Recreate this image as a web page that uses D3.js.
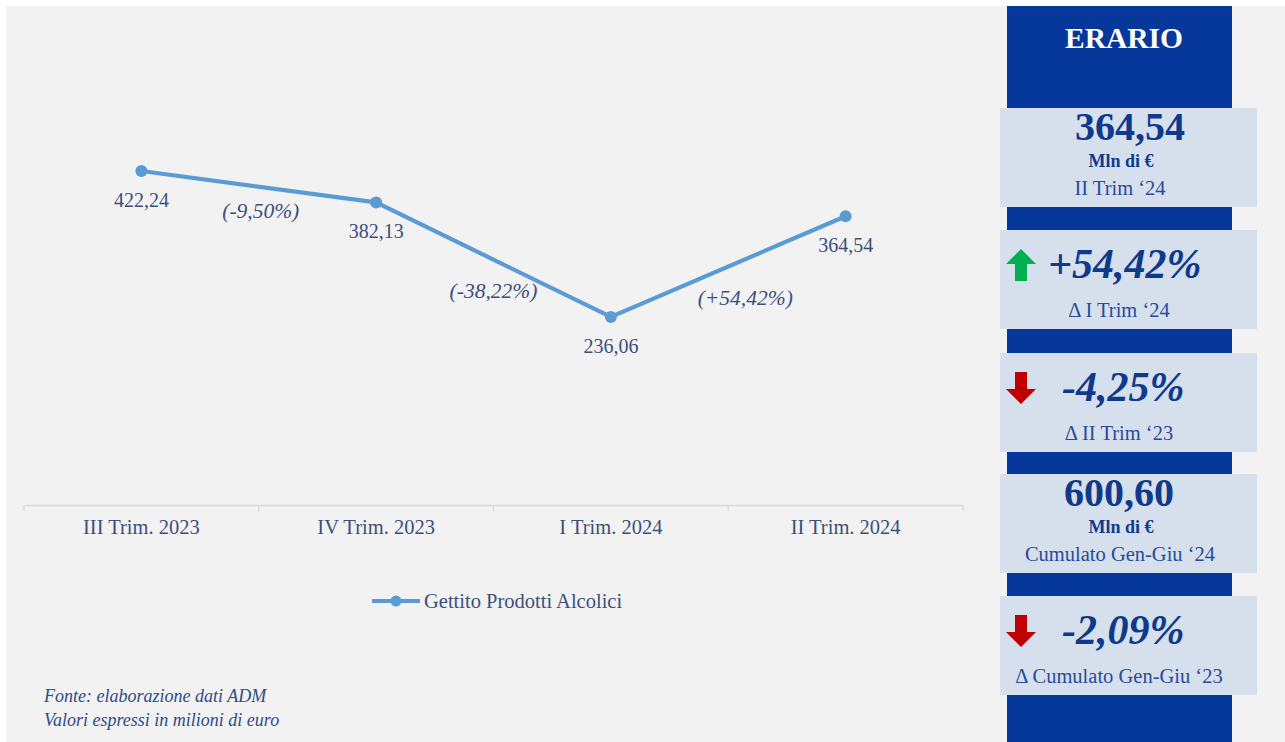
<!DOCTYPE html>
<html>
<head>
<meta charset="utf-8">
<script src="https://cdn.jsdelivr.net/npm/d3@7"></script>
<style>
  html, body { margin: 0; padding: 0; background: #ffffff; }
  svg { display: block; }
  text { font-family: "Liberation Serif", "DejaVu Serif", serif; }
</style>
</head>
<body>
<svg id="chart" width="1285" height="742"></svg>
<script>
// ---- Data ----
const categories = ["III Trim. 2023", "IV Trim. 2023", "I Trim. 2024", "II Trim. 2024"];
const values = [422.24, 382.13, 236.06, 364.54];
const valueLabels = ["422,24", "382,13", "236,06", "364,54"];
const changeLabels = ["(-9,50%)", "(-38,22%)", "(+54,42%)"];
const seriesName = "Gettito Prodotti Alcolici";
const notes = ["Fonte: elaborazione dati ADM", "Valori espressi in milioni di euro"];
const panelTitle = "ERARIO";
const kpiMain = ["364,54", "+54,42%", "-4,25%", "600,60", "-2,09%"];
const kpiUnit = ["Mln di €", "", "", "Mln di €", ""];
const kpiSub = ["II Trim ‘24", "Δ I Trim ‘24", "Δ II Trim ‘23", "Cumulato Gen-Giu ‘24", "Δ Cumulato Gen-Giu ‘23"];
const kpiArrow = ["", "up", "down", "", "down"];

// ---- Layout ----
const svg = d3.select("#chart");
const W = 1285, H = 742;
const textCol = "#3d4f7c";
const lineCol = "#5b9bd5";
const darkBlue = "#06389c";
const boxCol = "#d6dfec";
const kpiText = "#0f3a8c";

svg.append("rect").attr("x", 6).attr("y", 6).attr("width", W - 6).attr("height", H - 6).attr("fill", "#f2f2f2");

// scales
const x = d3.scaleBand().domain(categories).range([24, 963]).paddingInner(0).paddingOuter(0);
const y = d3.scaleLinear().domain([0, 600]).range([502, 31.6]);
const cx = d => x(d) + x.bandwidth() / 2;

// axis
const axisG = svg.append("g").attr("transform", "translate(0,505)")
  .call(d3.axisBottom(x).tickSize(0).tickPadding(0));
axisG.select(".domain").attr("stroke", "#d9d9d9").attr("stroke-width", 1.3);
axisG.selectAll(".tick text").remove();
const bounds = categories.map(c => x(c)).concat([x(categories[categories.length - 1]) + x.bandwidth()]);
axisG.selectAll("line.bnd").data(bounds).enter().append("line")
  .attr("class", "bnd").attr("x1", d => d).attr("x2", d => d).attr("y1", 0).attr("y2", 6)
  .attr("stroke", "#d9d9d9").attr("stroke-width", 1.3);
axisG.selectAll("text.cat").data(categories).enter().append("text")
  .attr("class", "cat").attr("x", d => cx(d)).attr("y", 29)
  .attr("text-anchor", "middle").attr("font-size", 20.5).attr("fill", textCol).text(d => d);

// line
const pts = categories.map((c, i) => ({ c, v: values[i], label: valueLabels[i] }));
const line = d3.line().x(d => cx(d.c)).y(d => y(d.v));
svg.append("path").datum(pts).attr("d", line).attr("fill", "none")
  .attr("stroke", lineCol).attr("stroke-width", 4.2).attr("stroke-linejoin", "round");
svg.selectAll("circle.pt").data(pts).enter().append("circle")
  .attr("class", "pt").attr("cx", d => cx(d.c)).attr("cy", d => y(d.v)).attr("r", 6)
  .attr("fill", lineCol);
svg.selectAll("text.vl").data(pts).enter().append("text")
  .attr("class", "vl").attr("x", d => cx(d.c)).attr("y", d => y(d.v) + 36)
  .attr("text-anchor", "middle").attr("font-size", 20).attr("fill", textCol).text(d => d.label);

// change labels between points
const chg = changeLabels.map((t, i) => ({ t, a: pts[i], b: pts[i + 1] }));
const chgDy = [31, 38, 38.5];
const chgDx = [2, 0, 17];
svg.selectAll("text.chg").data(chg).enter().append("text")
  .attr("class", "chg")
  .attr("x", (d, i) => (cx(d.a.c) + cx(d.b.c)) / 2 + chgDx[i])
  .attr("y", (d, i) => (y(d.a.v) + y(d.b.v)) / 2 + chgDy[i])
  .attr("text-anchor", "middle").attr("font-size", 21.5).attr("font-style", "italic")
  .attr("fill", textCol).text(d => d.t);

// legend
const lg = svg.append("g").attr("transform", "translate(372,601)");
lg.append("line").attr("x1", 0).attr("x2", 48).attr("y1", 0).attr("y2", 0)
  .attr("stroke", lineCol).attr("stroke-width", 4.2);
lg.append("circle").attr("cx", 24).attr("cy", 0).attr("r", 5.5).attr("fill", lineCol);
lg.append("text").attr("x", 52).attr("y", 7).attr("font-size", 20.5).attr("fill", textCol).text(seriesName);

// notes
svg.selectAll("text.note").data(notes).enter().append("text")
  .attr("class", "note").attr("x", 44).attr("y", (d, i) => 702 + i * 24)
  .attr("font-size", 18).attr("font-style", "italic").attr("fill", "#2f4a8a").text(d => d);

// ---- Right panel ----
svg.append("rect").attr("x", 1007).attr("y", 6).attr("width", 225).attr("height", H - 6).attr("fill", darkBlue);
svg.append("text").attr("x", 1124).attr("y", 48).attr("text-anchor", "middle")
  .attr("font-size", 29.5).attr("font-weight", "bold").attr("fill", "#ffffff").text(panelTitle);

const boxTops = [108, 230, 353, 474, 596];
const boxH = 99;
const mainX = [1130, 1048, 1062, 1119, 1062];
kpiMain.forEach((m, i) => {
  const g = svg.append("g").attr("transform", `translate(0,${boxTops[i]})`);
  g.append("rect").attr("x", 1000).attr("y", 0).attr("width", 257).attr("height", boxH).attr("fill", boxCol);
  if (kpiUnit[i]) {
    g.append("text").attr("x", mainX[i]).attr("y", 32).attr("text-anchor", "middle")
      .attr("font-size", 40).attr("font-weight", "bold").attr("fill", kpiText).text(m);
    g.append("text").attr("x", 1121).attr("y", 59).attr("text-anchor", "middle")
      .attr("font-size", 18).attr("font-weight", "bold").attr("fill", kpiText).text(kpiUnit[i]);
    g.append("text").attr("x", 1120).attr("y", 87).attr("text-anchor", "middle")
      .attr("font-size", 20.5).attr("fill", "#2a4a9a").text(kpiSub[i]);
  } else {
    const up = kpiArrow[i] === "up";
    g.append("text").attr("x", mainX[i]).attr("y", 48).attr("text-anchor", "start")
      .attr("font-size", 42).attr("font-weight", "bold").attr("font-style", "italic")
      .attr("fill", kpiText).text(m);
    g.append("text").attr("x", 1119).attr("y", 87).attr("text-anchor", "middle")
      .attr("font-size", 20.5).attr("fill", "#2a4a9a").text(kpiSub[i]);
    const ax = 1021, top = 19, bot = 51;
    let p;
    if (up) {
      p = [[ax, top], [ax + 15, top + 15], [ax + 6, top + 15], [ax + 6, bot], [ax - 6, bot], [ax - 6, top + 15], [ax - 15, top + 15]];
    } else {
      p = [[ax - 6, top], [ax + 6, top], [ax + 6, top + 17], [ax + 15, top + 17], [ax, bot], [ax - 15, top + 17], [ax - 6, top + 17]];
    }
    g.append("path").attr("d", d3.line()(p) + "Z").attr("fill", up ? "#00b050" : "#c00000");
  }
});
</script>
</body>
</html>
